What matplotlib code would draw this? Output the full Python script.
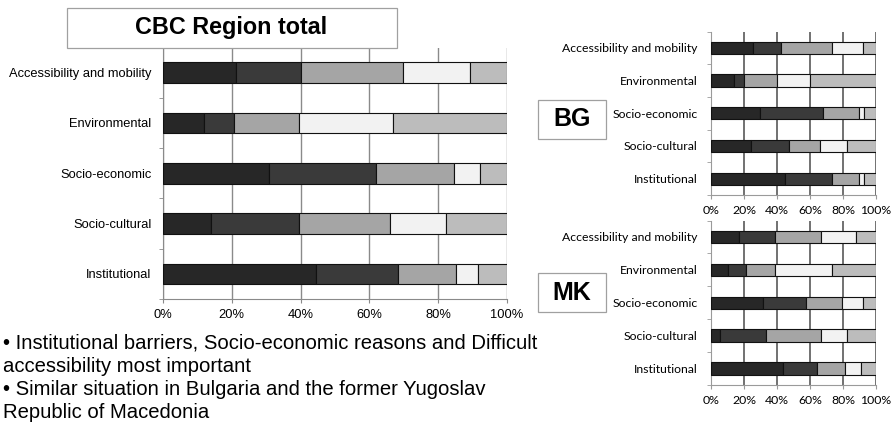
import matplotlib
matplotlib.use("Agg")
import matplotlib.pyplot as plt
from matplotlib.patches import Rectangle

W, H = 893, 432

categories = ["Accessibility and mobility", "Environmental", "Socio-economic",
              "Socio-cultural", "Institutional"]

# Share of each answer group per barrier type (percent, five stacked segments)
total_vals = [
    [21.1, 19.1, 29.6, 19.5, 10.7],
    [11.8, 8.7, 18.9, 27.5, 33.1],
    [30.8, 31.2, 22.5, 7.7, 7.8],
    [14.0, 25.4, 26.7, 16.3, 17.6],
    [44.4, 23.9, 17.0, 6.3, 8.4],
]
bg_vals = [
    [25.4, 16.9, 30.9, 18.7, 8.1],
    [13.7, 6.1, 20.1, 19.8, 40.3],
    [29.8, 37.9, 22.2, 2.8, 7.3],
    [24.2, 22.8, 19.1, 16.6, 17.3],
    [44.6, 29.0, 16.3, 2.8, 7.3],
]
mk_vals = [
    [17.1, 21.9, 27.8, 21.3, 11.9],
    [10.5, 11.0, 17.5, 34.6, 26.4],
    [31.8, 25.9, 21.8, 12.5, 8.0],
    [5.6, 27.8, 33.4, 15.9, 17.3],
    [43.9, 20.3, 16.9, 9.6, 9.3],
]
x_ticks = [0, 20, 40, 60, 80, 100]
x_tick_labels = ["0%", "20%", "40%", "60%", "80%", "100%"]

title_main = "CBC Region total"
label_bg = "BG"
label_mk = "MK"
notes = [
    "\u2022 Institutional barriers, Socio-economic reasons and Difficult",
    "accessibility most important",
    "\u2022 Similar situation in Bulgaria and the former Yugoslav",
    "Republic of Macedonia",
]

seg_colors = ["#272727", "#3a3a3a", "#a5a5a5", "#f2f2f2", "#bcbcbc"]

fig = plt.figure(figsize=(W / 100, H / 100), dpi=100)
fig.patch.set_facecolor("white")


def px_axes(left, top, right, bottom):
    return fig.add_axes([left / W, 1 - bottom / H, (right - left) / W, (bottom - top) / H])


def draw_stack(ax, vals, bar_h, font, fsize, grid_color, grid_lw, tick_fs, spine_color, ypad):
    n = len(categories)
    for i, row in enumerate(vals):
        left = 0.0
        for j, v in enumerate(row):
            ax.barh(i, v, left=left, height=bar_h, color=seg_colors[j],
                    edgecolor="#111111", linewidth=0.8, zorder=3)
            left += v
    ax.set_xlim(0, 100)
    ax.set_ylim(n - 0.5, -0.5)
    ax.set_xticks(x_ticks)
    ax.set_xticklabels(x_tick_labels, fontfamily=font, fontsize=tick_fs)
    ax.set_yticks(range(n))
    ax.set_yticklabels(categories, fontfamily=font, fontsize=fsize)
    ax.set_yticks([k + 0.5 for k in range(-1, n)], minor=True)
    ax.tick_params(axis="y", which="major", length=0, pad=ypad)
    ax.tick_params(axis="y", which="minor", length=3, color=spine_color, direction="out")
    ax.tick_params(axis="x", length=3, color=spine_color, pad=4)
    ax.xaxis.grid(True, color=grid_color, linewidth=grid_lw, zorder=0)
    ax.set_axisbelow(True)
    for s in ["top", "right"]:
        ax.spines[s].set_visible(False)
    for s in ["left", "bottom"]:
        ax.spines[s].set_color(spine_color)
        ax.spines[s].set_linewidth(0.8)


# Main panel
ax_main = px_axes(163, 47.5, 507, 299)
draw_stack(ax_main, total_vals, 0.41, "Liberation Sans", 9.3, "#8a8a8a", 1.0, 9.3,
           "#8a8a8a", 8.5)

# Country panels
ax_bg = px_axes(711, 31.5, 876, 195)
draw_stack(ax_bg, bg_vals, 0.375, "Lato", 8.8, "#4a4a4a", 1.1, 8.8, "#9a9a9a", 9.5)
ax_mk = px_axes(711, 220.5, 876, 385)
draw_stack(ax_mk, mk_vals, 0.375, "Lato", 8.8, "#4a4a4a", 1.1, 8.8, "#9a9a9a", 9.5)


def boxed_label(x0, y0, x1, y1, text, fsize):
    fig.patches.append(Rectangle((x0 / W, 1 - y1 / H), (x1 - x0) / W, (y1 - y0) / H,
                                 transform=fig.transFigure, facecolor="white",
                                 edgecolor="#a0a0a0", linewidth=0.9, zorder=5))
    fig.text((x0 + x1) / 2 / W, 1 - (y0 + y1) / 2 / H, text, ha="center", va="center",
             fontfamily="Liberation Sans", fontweight="bold", fontsize=fsize, zorder=6)


boxed_label(66.5, 8, 396.5, 47.5, title_main, 16.8)
boxed_label(538, 100, 605.5, 139, label_bg, 18)
boxed_label(538, 273, 605.5, 312, label_mk, 18)

# Notes below the main panel
line_y = [343, 366.5, 389.5, 413]
for txt, y in zip(notes, line_y):
    fig.text(3 / W, 1 - y / H, txt, ha="left", va="center",
             fontfamily="Liberation Sans", fontsize=14.6)

fig.savefig("out.png", dpi=100, facecolor="white")
